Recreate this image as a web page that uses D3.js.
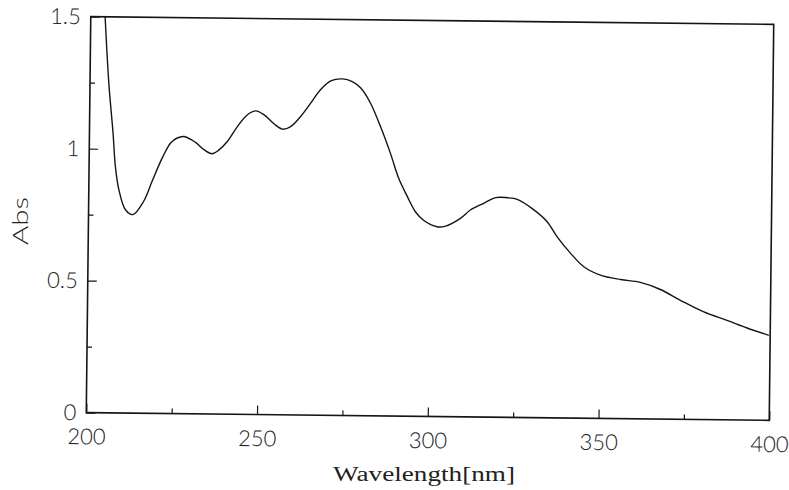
<!DOCTYPE html>
<html>
<head>
<meta charset="utf-8">
<script src="https://cdn.jsdelivr.net/npm/d3@7"></script>
<style>
  html, body { margin: 0; padding: 0; background: #fff; }
  svg { display: block; }
</style>
</head>
<body>
<svg id="chart" width="789" height="490"></svg>
<script>
// ---- data ----
const wavelength = [204.2, 205.5, 206.9, 207.7, 208.8, 210.8, 213.0, 216.1, 218.5, 221.4,
  223.8, 225.7, 227.7, 231.1, 233.6, 236.0, 238.0, 240.4, 243.3, 246.2,
  248.6, 251.0, 254.0, 256.5, 258.9, 261.8, 264.7, 267.5, 270.5, 273.9,
  276.8, 279.3, 282.2, 285.2, 288.2, 290.7, 293.3, 295.7, 298.2, 302.1,
  304.6, 308.9, 311.8, 315.7, 319.1, 322.6, 325.5, 330.4, 334.3, 337.3,
  341.3, 345.2, 350.1, 356.0, 361.8, 367.7, 373.6, 380.5, 387.3, 393.2, 399.6];
const absorbance = [1.50, 1.25, 1.061, 0.934, 0.846, 0.770, 0.752, 0.803, 0.879, 0.968,
  1.025, 1.044, 1.050, 1.028, 1.001, 0.986, 1.001, 1.033, 1.090, 1.135,
  1.150, 1.136, 1.102, 1.082, 1.092, 1.131, 1.182, 1.233, 1.267, 1.275,
  1.265, 1.241, 1.184, 1.096, 0.995, 0.901, 0.832, 0.775, 0.742, 0.719,
  0.722, 0.752, 0.784, 0.810, 0.832, 0.832, 0.826, 0.787, 0.743, 0.686,
  0.624, 0.574, 0.543, 0.527, 0.517, 0.491, 0.451, 0.408, 0.377, 0.349, 0.322];
const xMajorTicks = [200, 250, 300, 350, 400];
const xMinorTicks = [225, 275, 325, 375];
const yMajorTicks = [0, 0.5, 1, 1.5];
const yMinorTicks = [0.25, 0.75, 1.25];
const xTickLabels = ["200", "250", "300", "350", "400"];
const yTickLabels = ["0", "0.5", "1", "1.5"];
const xTitle = "Wavelength[nm]";
const yTitle = "Abs";

// ---- layout ----
const svg = d3.select("#chart");
const frame = { left: 88.5, right: 771.5, top: 20.5, bottom: 416.5 };
const cx = (frame.left + frame.right) / 2, cy = (frame.top + frame.bottom) / 2;
const ink = "#151515";
const tickFont = "Lato, 'Liberation Sans', Arial, sans-serif";

const x = d3.scaleLinear().domain([200, 400]).range([frame.left, frame.right]);
const y = d3.scaleLinear().domain([0, 1.5]).range([frame.bottom, frame.top]);

// the scanned plot is slightly rotated
const g = svg.append("g").attr("transform", `rotate(0.65, ${cx}, ${cy})`);

g.append("clipPath").attr("id", "plotclip")
  .append("rect")
  .attr("x", frame.left).attr("y", frame.top)
  .attr("width", frame.right - frame.left).attr("height", frame.bottom - frame.top);

// x axis (major, inward ticks)
const xAxis = g.append("g")
  .attr("transform", `translate(0,${frame.bottom})`)
  .call(d3.axisBottom(x).tickValues(xMajorTicks)
    .tickFormat((d, i) => xTickLabels[i])
    .tickSizeInner(-9).tickSizeOuter(0).tickPadding(16));
const xMinor = g.append("g")
  .attr("transform", `translate(0,${frame.bottom})`)
  .call(d3.axisBottom(x).tickValues(xMinorTicks).tickFormat("")
    .tickSizeInner(-5).tickSizeOuter(0));

// y axis
const yAxis = g.append("g")
  .attr("transform", `translate(${frame.left},0)`)
  .call(d3.axisLeft(y).tickValues(yMajorTicks)
    .tickFormat((d, i) => yTickLabels[i])
    .tickSizeInner(-9).tickSizeOuter(0).tickPadding(10));
const yMinor = g.append("g")
  .attr("transform", `translate(${frame.left},0)`)
  .call(d3.axisLeft(y).tickValues(yMinorTicks).tickFormat("")
    .tickSizeInner(-5).tickSizeOuter(0));

[xAxis, xMinor, yAxis, yMinor].forEach(a => {
  a.select(".domain").remove();
  a.selectAll(".tick line").attr("stroke", ink).attr("stroke-width", 1.2);
  a.selectAll(".tick text")
    .attr("fill", "#222")
    .style("font-family", tickFont)
    .style("font-weight", "300")
    .style("font-size", "22px");
});
yAxis.selectAll(".tick text").attr("dy", "0.32em");

// frame
g.append("rect")
  .attr("x", frame.left).attr("y", frame.top)
  .attr("width", frame.right - frame.left).attr("height", frame.bottom - frame.top)
  .attr("fill", "none").attr("stroke", ink).attr("stroke-width", 1.6);

// spectrum
const pts = wavelength.map((w, i) => [w, absorbance[i]]);
g.append("path")
  .datum(pts)
  .attr("clip-path", "url(#plotclip)")
  .attr("fill", "none")
  .attr("stroke", ink)
  .attr("stroke-width", 1.4)
  .attr("stroke-linejoin", "round")
  .attr("d", d3.line().x(d => x(d[0])).y(d => y(d[1])).curve(d3.curveCatmullRom.alpha(0.5)));

// axis titles
svg.append("text")
  .attr("x", 424).attr("y", 481)
  .attr("text-anchor", "middle")
  .attr("textLength", 182).attr("lengthAdjust", "spacingAndGlyphs")
  .attr("fill", "#222")
  .style("font-family", "'Liberation Serif', 'DejaVu Serif', serif")
  .style("font-size", "20px")
  .text(xTitle);

svg.append("text")
  .attr("transform", "translate(28,221) rotate(-90)")
  .attr("text-anchor", "middle")
  .attr("textLength", 48).attr("lengthAdjust", "spacingAndGlyphs")
  .attr("fill", "#222")
  .style("font-family", tickFont)
  .style("font-weight", "300")
  .style("font-size", "21px")
  .text(yTitle);
</script>
</body>
</html>
